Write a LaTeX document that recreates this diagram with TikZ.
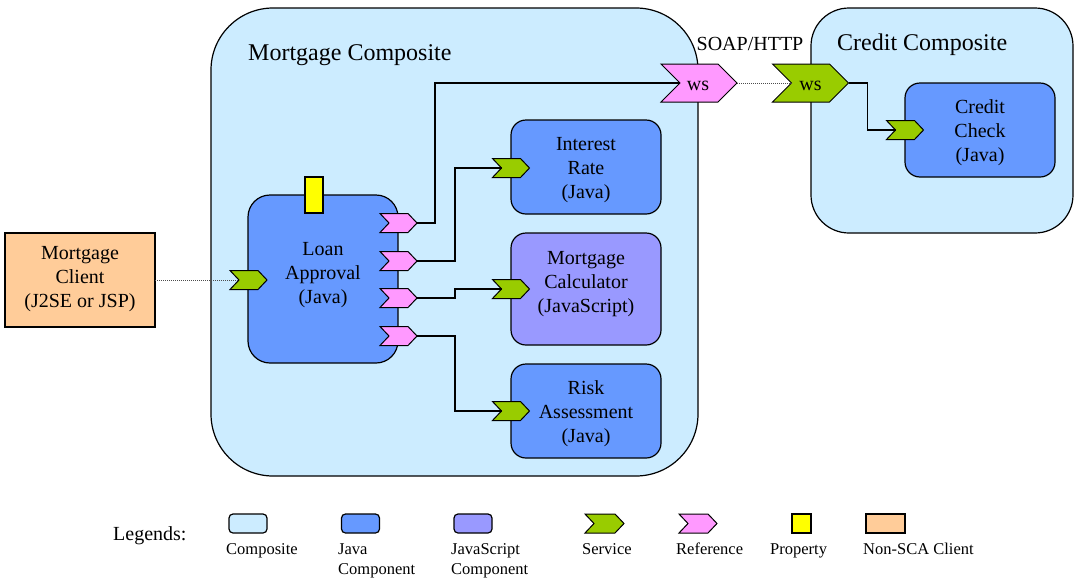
\documentclass[tikz,border=0pt]{standalone}
\usepackage{fontspec}
\setmainfont{Liberation Serif}
\usetikzlibrary{calc}

\definecolor{compbg}{RGB}{204,236,255}
\definecolor{javabg}{RGB}{102,153,255}
\definecolor{jsbg}{RGB}{153,153,255}
\definecolor{svcgreen}{RGB}{153,204,0}
\definecolor{refpink}{RGB}{255,153,255}
\definecolor{propyellow}{RGB}{255,255,0}
\definecolor{clientorange}{RGB}{255,204,153}

\tikzset{
  boxline/.style={draw=black, line width=1.2pt, inner sep=0pt, outer sep=0pt},
  composite/.style={boxline, fill=compbg},
  javacomp/.style={boxline, fill=javabg, minimum width=150, minimum height=94, rounded corners=15},
  jscomp/.style={boxline, fill=jsbg, minimum width=150, minimum height=112, rounded corners=15},
  comptext/.style={align=center, font=\fontsize{20}{24}\selectfont, inner sep=0pt},
  titletext/.style={font=\fontsize{24}{28}\selectfont, inner sep=0pt},
  chevline/.style={draw=black, line width=1pt, line join=miter},
  chevbox/.style={inner sep=0pt, outer sep=0pt},
  wstext/.style={inner sep=0pt, anchor=base, font=\fontsize{20}{22}\selectfont},
  wire/.style={draw=black, line width=1.2pt},
  dotwire/.style={draw=black!70, line width=1pt, densely dotted},
  legtext/.style={align=left, font=\fontsize{16.5}{20}\selectfont, inner sep=0pt, anchor=base west},
  legbox/.style={boxline, minimum width=38, minimum height=19, rounded corners=4},
}

% chevron: name, centre x, centre y, width, height, notch depth, fill
\newcommand\chevron[7]{%
  \draw[chevline, fill=#7] (#2-#4/2,#3-#5/2) -- (#2+#4/2-#6,#3-#5/2) -- (#2+#4/2,#3)
    -- (#2+#4/2-#6,#3+#5/2) -- (#2-#4/2,#3+#5/2) -- (#2-#4/2+#6,#3) -- cycle;
  \node[chevbox, minimum width=#4, minimum height=#5] (#1) at (#2,#3) {};
  \coordinate (#1-in) at (#2-#4/2+#6,#3);
}

\begin{document}
\begin{tikzpicture}[x=1pt, y=-1pt]
  \useasboundingbox[fill=white] (0,0) rectangle (1082,587);

  % composites
  \node[composite, minimum width=487, minimum height=468, rounded corners=62] (mcomp) at (454.5,242) {};
  \node[titletext, anchor=base west] (mcomp-t) at (248,60) {Mortgage Composite};
  \node[composite, minimum width=262, minimum height=225, rounded corners=38] (ccomp) at (942,120.5) {};
  \node[titletext, anchor=base west] (ccomp-t) at (837,50) {Credit Composite};
  \node[inner sep=0pt, anchor=base, font=\fontsize{20}{24}\selectfont] (soap) at (750,50) {SOAP/HTTP};

  % components
  \node[javacomp] (cc) at (980,130) {};
  \node[comptext] (cc-t) at (980,132.5) {Credit\\Check\\(Java)};
  \node[javacomp] (ir) at (586,167) {};
  \node[comptext] (ir-t) at (586,170.5) {Interest\\Rate\\(Java)};
  \node[jscomp] (mc) at (586,289) {};
  \node[comptext] (mc-t) at (586,284) {Mortgage\\Calculator\\(JavaScript)};
  \node[javacomp] (ra) at (586,411) {};
  \node[comptext] (ra-t) at (586,413.5) {Risk\\Assessment\\(Java)};
  \node[boxline, fill=javabg, minimum width=150, minimum height=168, rounded corners=22] (la) at (323,279) {};
  \node[comptext] (la-t) at (323,275.5) {Loan\\Approval\\(Java)};
  \node[boxline, fill=propyellow, minimum width=18, minimum height=36] (prop) at (314,195) {};

  % client
  \node[boxline, fill=clientorange, minimum width=150, minimum height=94] (client) at (80,280) {};
  \node[comptext] (client-t) at (80,279.5) {Mortgage\\Client\\(J2SE or JSP)};

  % services and references
  \chevron{lasvc}{248.5}{280}{37}{19}{9}{svcgreen}
  \chevron{r1}{398.5}{223}{37}{19}{9}{refpink}
  \chevron{r2}{398.5}{261}{37}{19}{9}{refpink}
  \chevron{r3}{398.5}{298}{37}{19}{9}{refpink}
  \chevron{r4}{398.5}{336}{37}{19}{9}{refpink}
  \chevron{irsvc}{511}{168}{37}{19}{9}{svcgreen}
  \chevron{mcsvc}{511}{289}{37}{19}{9}{svcgreen}
  \chevron{rasvc}{511}{411}{37}{19}{9}{svcgreen}
  \chevron{ccsvc}{905}{130}{37}{19}{9}{svcgreen}
  \chevron{wsr}{699}{83}{76}{38}{19}{refpink}
  \node[wstext] (wsr-t) at (698,90) {ws};
  \chevron{wsg}{810.5}{83}{76}{38}{19}{svcgreen}
  \node[wstext] (wsg-t) at (810.5,90) {ws};

  % wires
  \draw[wire] (r1.east) -- ++(18,0) |- (wsr-in);
  \draw[wire] (r2.east) -- ++(38,0) |- (irsvc-in);
  \draw[wire] (r3.east) -- ++(38,0) |- (mcsvc-in);
  \draw[wire] (r4.east) -- ++(38,0) |- (rasvc-in);
  \draw[wire] (wsg.east) -- ++(19,0) |- (ccsvc-in);
  \draw[dotwire] (client.east) -- (lasvc-in);
  \draw[dotwire] (wsr.east) -- (wsg-in);

  % legend
  \node[inner sep=0pt, anchor=base west, font=\fontsize{20}{24}\selectfont] (leg) at (113,540) {Legends:};
  \node[legbox, fill=compbg] (lg1) at (248,523.5) {};
  \node[legtext] (lg1-t) at (226,554) {Composite};
  \node[legbox, fill=javabg] (lg2) at (360.5,523.5) {};
  \node[legtext] (lg2-t) at (338,574) {Java\\Component};
  \node[legbox, fill=jsbg] (lg3) at (473,523.5) {};
  \node[legtext] (lg3-t) at (451,574) {JavaScript\\Component};
  \chevron{lg4}{604.5}{523.5}{39}{19}{9}{svcgreen}
  \node[legtext] (lg4-t) at (582,554) {Service};
  \chevron{lg5}{698}{523.5}{38}{19}{9}{refpink}
  \node[legtext] (lg5-t) at (676,554) {Reference};
  \node[boxline, fill=propyellow, minimum width=19, minimum height=19] (lg6) at (801.5,523.5) {};
  \node[legtext] (lg6-t) at (770,554) {Property};
  \node[boxline, fill=clientorange, minimum width=39, minimum height=19] (lg7) at (885.5,523.5) {};
  \node[legtext] (lg7-t) at (863,554) {Non-SCA Client};
\end{tikzpicture}
\end{document}
